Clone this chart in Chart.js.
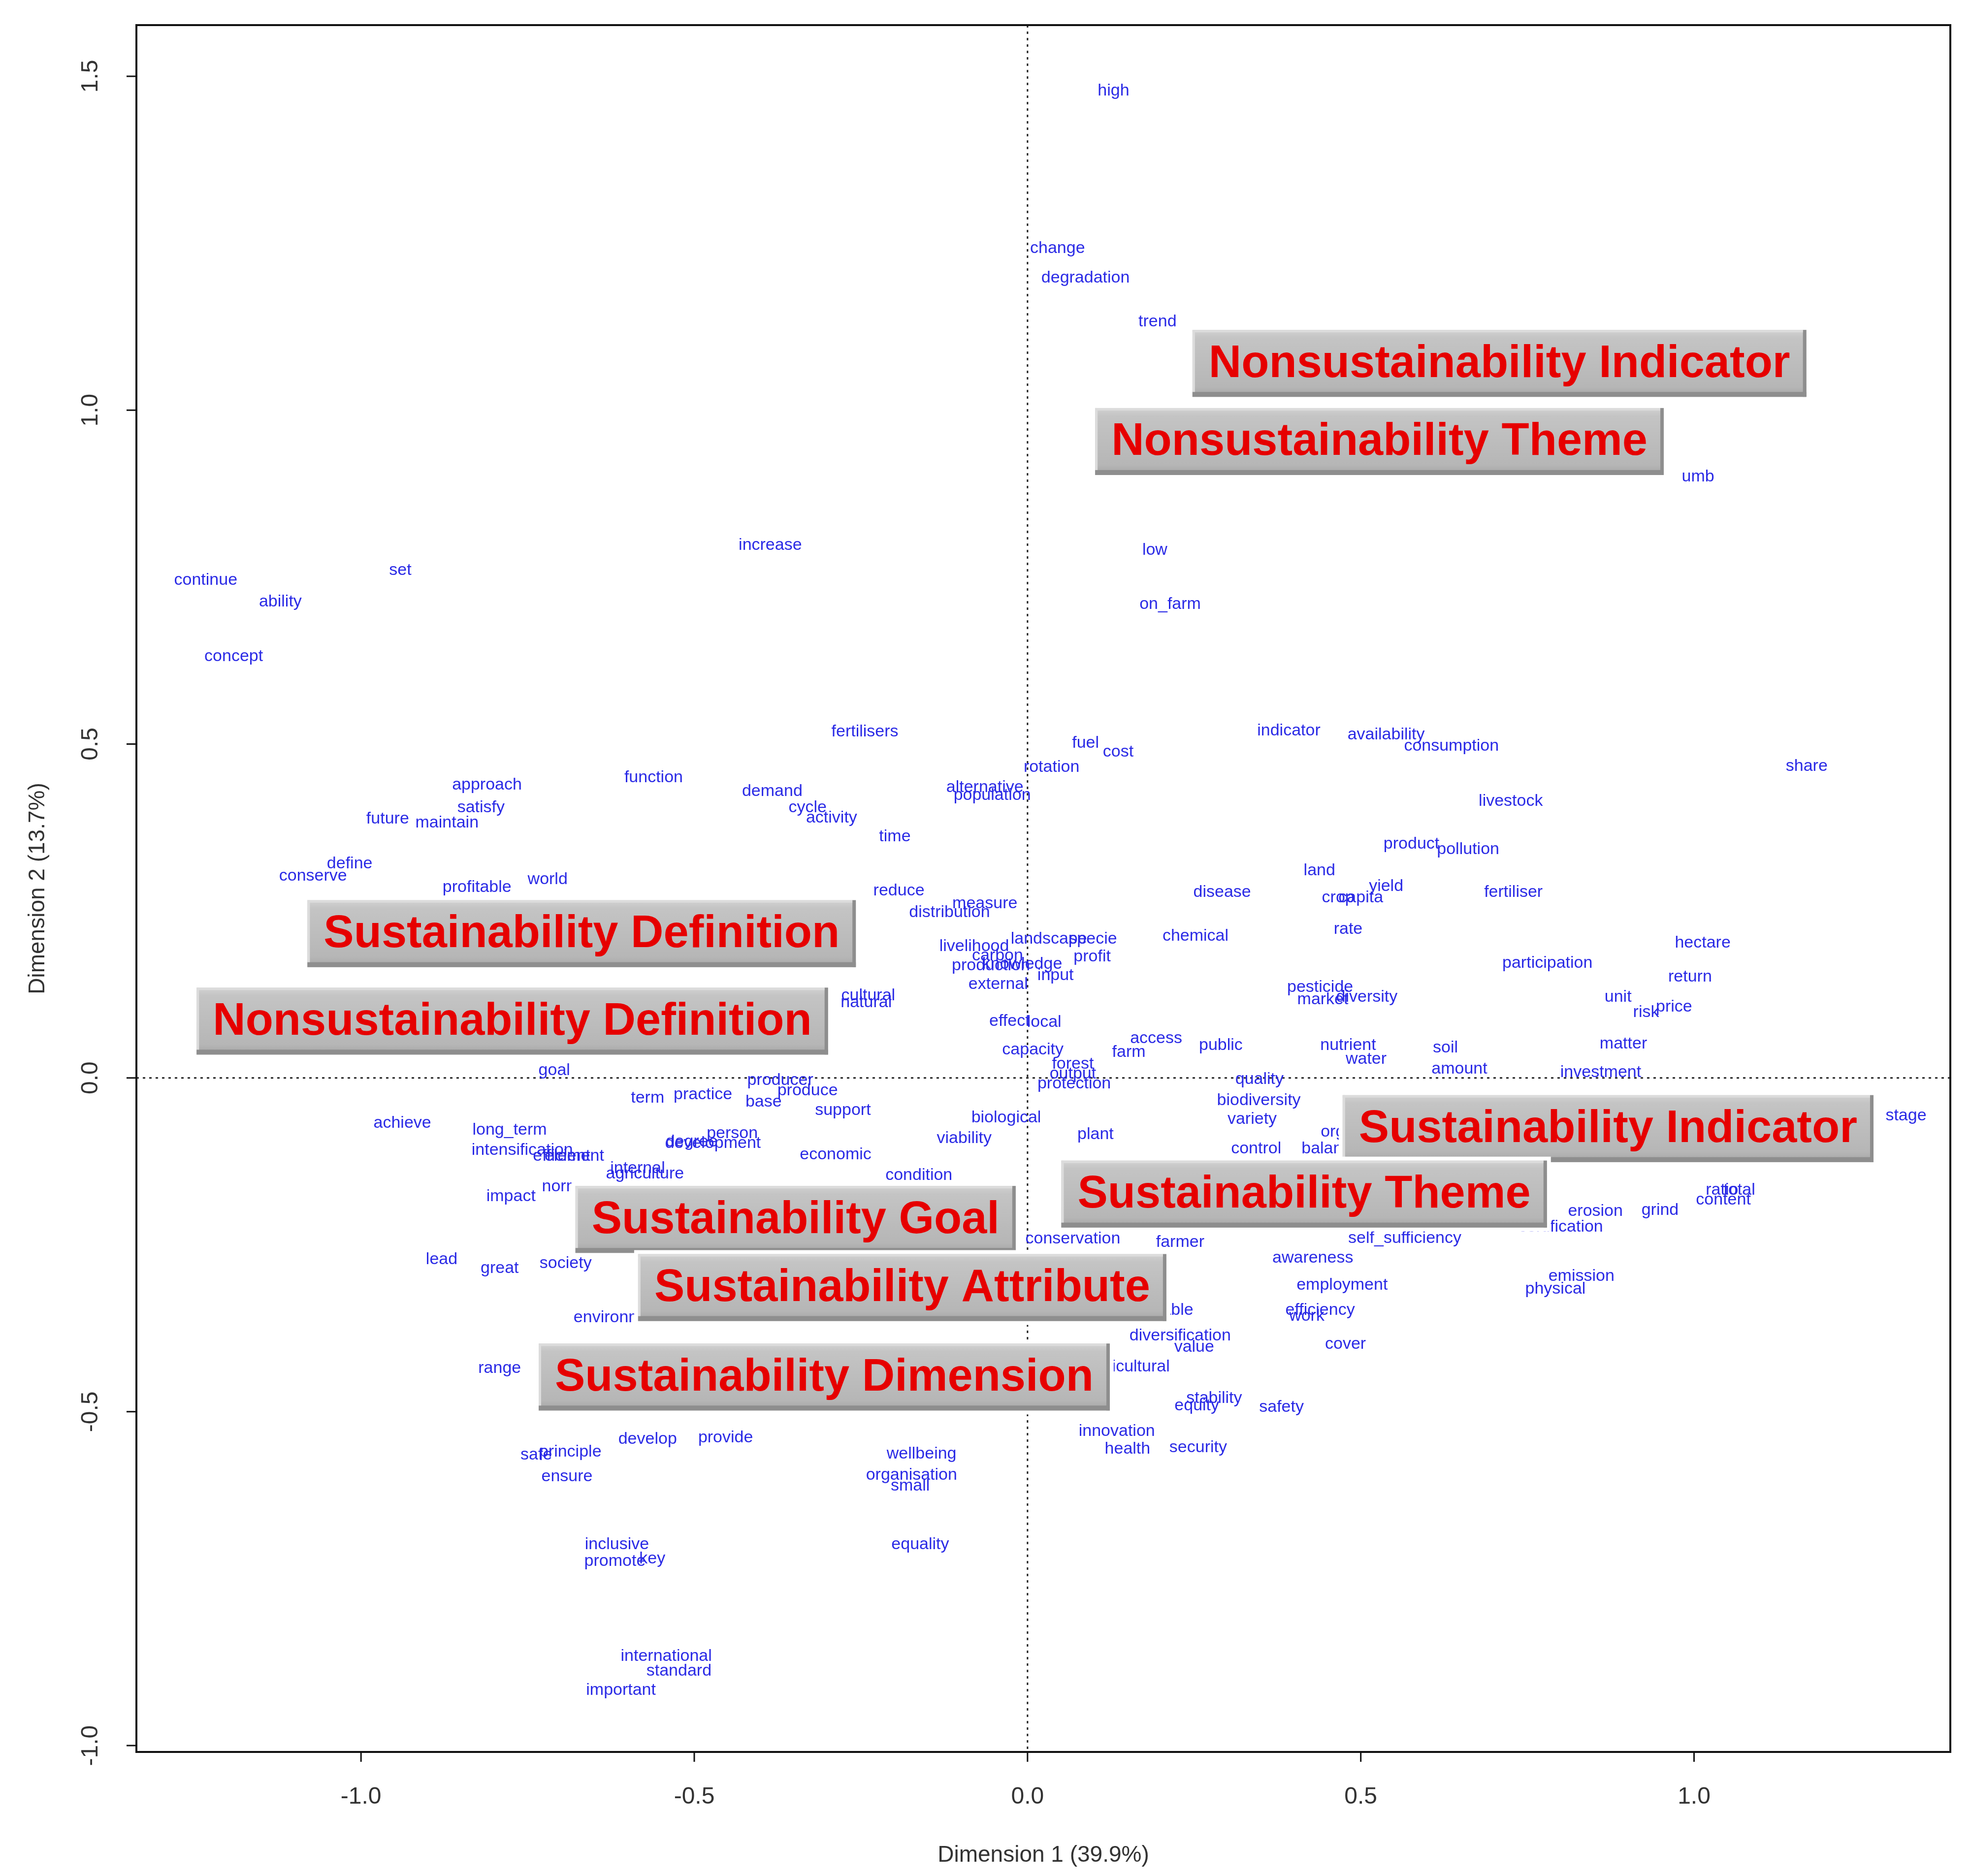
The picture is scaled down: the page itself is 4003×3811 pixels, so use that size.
<!DOCTYPE html>
<html>
<head>
<meta charset="utf-8">
<script src="https://cdn.jsdelivr.net/npm/chart.js@4.4.0/dist/chart.umd.min.js"></script>
<style>
  html, body { margin: 0; padding: 0; background: #fff; }
  #wrap { width: 4003px; height: 3811px; position: relative; }
</style>
</head>
<body>
<div id="wrap"><canvas id="ca"></canvas></div>
<script>
// word coordinates on the two dimensions
const words = ['high','change','degradation','trend','umb','low','on_farm','increase','continue','set','ability','concept',
  'fertilisers','fuel','cost','rotation','indicator','availability','consumption','share','livestock','product','pollution',
  'land','yield','crop','capita','fertiliser','disease','rate','chemical','hectare','participation','return','pesticide',
  'market','diversity','unit','risk','price','matter','soil','amount','investment','nutrient','water','public','access','farm',
  'quality','biodiversity','variety','organic','control','balance','stage','ratio','total','content','erosion','certification',
  'grind','self_sufficiency','awareness','employment','emission','physical','efficiency','work','cover','diversification',
  'value','viable','agricultural','stability','equity','safety','innovation','health','security','plant','biological',
  'viability','protection','forest','output','capacity','effect','local','external','input','profit','landscape','specie',
  'livelihood','carbon','knowledge','production','measure','distribution','reduce','alternative','population','time',
  'demand','cycle','activity','function','approach','satisfy','future','maintain','define','conserve','profitable','world',
  'cultural','natural','goal','producer','produce','term','practice','base','support','achieve','long_term','intensification',
  'efficient','element','person','development','degree','economic','condition','internal','agriculture','impact','norm',
  'lead','great','society','environment','range','develop','provide','safe','principle','ensure','wellbeing','organisation',
  'small','equality','inclusive','promote','key','international','standard','important','conservation','farmer'];

const wordX = [0.129,0.045,0.087,0.195,1.006,0.191,0.214,-0.386,-1.233,-0.941,-1.121,-1.191,
  -0.244,0.087,0.136,0.036,0.392,0.538,0.636,1.169,0.725,0.576,0.661,
  0.438,0.538,0.466,0.500,0.729,0.292,0.481,0.252,1.013,0.780,0.994,0.439,
  0.443,0.509,0.886,0.928,0.970,0.894,0.627,0.648,0.860,0.481,0.508,0.290,0.193,0.152,
  0.348,0.347,0.337,0.481,0.343,0.455,1.318,1.042,1.068,1.044,0.852,0.800,
  0.949,0.566,0.428,0.472,0.831,0.792,0.439,0.419,0.477,0.229,
  0.250,0.216,0.152,0.280,0.254,0.381,0.134,0.150,0.256,0.102,-0.032,
  -0.095,0.070,0.068,0.068,0.008,-0.027,0.025,-0.044,0.042,0.097,0.032,0.098,
  -0.080,-0.045,-0.008,-0.055,-0.064,-0.117,-0.193,-0.064,-0.053,-0.199,
  -0.383,-0.330,-0.294,-0.561,-0.811,-0.820,-0.960,-0.871,-1.017,-1.072,-0.826,-0.720,
  -0.239,-0.242,-0.710,-0.371,-0.330,-0.570,-0.487,-0.396,-0.277,-0.938,-0.777,-0.758,
  -0.699,-0.680,-0.443,-0.472,-0.504,-0.288,-0.163,-0.585,-0.574,-0.775,-0.700,
  -0.879,-0.792,-0.693,-0.612,-0.792,-0.570,-0.453,-0.737,-0.686,-0.691,-0.159,-0.174,
  -0.176,-0.161,-0.616,-0.619,-0.563,-0.542,-0.523,-0.610,0.068,0.229];

const wordY = [1.478,1.242,1.198,1.132,0.900,0.790,0.709,0.798,0.745,0.760,0.713,0.631,
  0.518,0.501,0.488,0.465,0.520,0.514,0.497,0.467,0.414,0.350,0.342,
  0.310,0.287,0.270,0.270,0.278,0.278,0.223,0.212,0.202,0.172,0.151,0.136,
  0.117,0.121,0.121,0.098,0.106,0.051,0.045,0.013,0.008,0.049,0.028,0.049,0.059,0.038,
  -0.002,-0.034,-0.062,-0.081,-0.106,-0.106,-0.057,-0.168,-0.168,-0.183,-0.200,-0.223,
  -0.198,-0.240,-0.270,-0.310,-0.297,-0.316,-0.348,-0.357,-0.399,-0.386,
  -0.403,-0.348,-0.433,-0.480,-0.491,-0.493,-0.529,-0.556,-0.554,-0.085,-0.060,
  -0.091,-0.009,0.021,0.006,0.042,0.085,0.083,0.140,0.153,0.181,0.208,0.208,
  0.197,0.183,0.170,0.168,0.261,0.248,0.280,0.435,0.423,0.361,
  0.429,0.405,0.389,0.450,0.439,0.405,0.388,0.382,0.321,0.302,0.285,0.297,
  0.123,0.113,0.011,-0.004,-0.019,-0.030,-0.025,-0.036,-0.049,-0.068,-0.078,-0.108,
  -0.117,-0.117,-0.083,-0.098,-0.096,-0.115,-0.146,-0.136,-0.144,-0.178,-0.163,
  -0.272,-0.285,-0.278,-0.359,-0.435,-0.541,-0.539,-0.565,-0.560,-0.597,-0.563,-0.595,
  -0.611,-0.699,-0.699,-0.724,-0.720,-0.866,-0.888,-0.917,-0.241,-0.246];

// category (supplementary) points
const groups = ['Nonsustainability Indicator','Nonsustainability Theme','Sustainability Definition',
  'Nonsustainability Definition','Sustainability Indicator','Sustainability Theme','Sustainability Goal',
  'Sustainability Attribute','Sustainability Dimension'];
const groupX = [0.708, 0.528, -0.669, -0.773, 0.871, 0.415, -0.348, -0.188, -0.305];
const groupY = [1.070, 0.953, 0.216, 0.085, -0.076, -0.174, -0.212, -0.314, -0.448];

const xTicks = [-1.0, -0.5, 0.0, 0.5, 1.0];
const yTicks = [-1.0, -0.5, 0.0, 0.5, 1.0, 1.5];
const xTitle = 'Dimension 1 (39.9%)';
const yTitle = 'Dimension 2 (13.7%)';

function drawBox(ctx, cx, cy, text) {
  ctx.font = 'bold 92px "Liberation Sans"';
  const w = ctx.measureText(text).width + 66, h = 136;
  const x = cx - w / 2, y = cy - h / 2;
  ctx.fillStyle = '#ffffff';
  ctx.fillRect(x - 8, y - 8, w + 16, h + 16);
  const g = ctx.createLinearGradient(0, y, 0, y + h);
  g.addColorStop(0, '#d2d2d2');
  g.addColorStop(0.12, '#c4c4c4');
  g.addColorStop(0.85, '#b6b6b6');
  g.addColorStop(1, '#a4a4a4');
  ctx.fillStyle = g;
  ctx.fillRect(x, y, w, h);
  ctx.fillStyle = '#8e8e8e';
  ctx.fillRect(x, y + h - 10, w, 10);
  ctx.fillRect(x + w - 7, y, 7, h);
  ctx.fillStyle = '#dcdcdc';
  ctx.fillRect(x, y, w - 7, 5);
  ctx.fillRect(x, y, 5, h - 10);
  ctx.fillStyle = '#e60000';
  ctx.textAlign = 'center';
  ctx.textBaseline = 'middle';
  ctx.fillText(text, cx, cy + 2);
}

const biplot = {
  id: 'biplot',
  beforeDatasetsDraw(chart) {
    const {ctx, chartArea: a, scales: {x, y}} = chart;
    ctx.save();
    ctx.strokeStyle = '#222';
    ctx.lineWidth = 3;
    ctx.setLineDash([5, 8]);
    const x0 = x.getPixelForValue(0), y0 = y.getPixelForValue(0);
    ctx.beginPath();
    ctx.moveTo(x0, a.top); ctx.lineTo(x0, a.bottom);
    ctx.moveTo(a.left, y0); ctx.lineTo(a.right, y0);
    ctx.stroke();
    ctx.restore();
  },
  afterDatasetsDraw(chart) {
    const ctx = chart.ctx;
    ctx.save();
    // word labels
    ctx.font = '34px "Liberation Sans"';
    ctx.fillStyle = '#2a2ae6';
    ctx.textAlign = 'center';
    ctx.textBaseline = 'middle';
    chart.getDatasetMeta(0).data.forEach((p, i) => ctx.fillText(words[i], p.x, p.y));
    // group boxes
    chart.getDatasetMeta(1).data.forEach((p, i) => drawBox(ctx, p.x, p.y, groups[i]));
    ctx.restore();
  },
  afterDraw(chart) {
    const {ctx, chartArea: a, scales: {x, y}} = chart;
    ctx.save();
    ctx.strokeStyle = '#111';
    ctx.lineWidth = 4;
    ctx.strokeRect(a.left, a.top, a.right - a.left, a.bottom - a.top);
    ctx.lineWidth = 3;
    ctx.beginPath();
    xTicks.forEach(v => { const px = x.getPixelForValue(v); ctx.moveTo(px, a.bottom); ctx.lineTo(px, a.bottom + 20); });
    yTicks.forEach(v => { const py = y.getPixelForValue(v); ctx.moveTo(a.left, py); ctx.lineTo(a.left - 20, py); });
    ctx.stroke();
    ctx.fillStyle = '#333';
    ctx.font = '48px "Liberation Sans"';
    ctx.textAlign = 'center';
    ctx.textBaseline = 'middle';
    xTicks.forEach(v => ctx.fillText(v.toFixed(1), x.getPixelForValue(v), 3651));
    yTicks.forEach(v => {
      ctx.save();
      ctx.translate(185, y.getPixelForValue(v));
      ctx.rotate(-Math.PI / 2);
      ctx.fillText(v.toFixed(1), 0, 0);
      ctx.restore();
    });
    ctx.font = '46px "Liberation Sans"';
    ctx.fillText(xTitle, (a.left + a.right) / 2, 3769);
    ctx.save();
    ctx.translate(77, (a.top + a.bottom) / 2);
    ctx.rotate(-Math.PI / 2);
    ctx.fillText(yTitle, 0, 0);
    ctx.restore();
    ctx.restore();
  }
};

new Chart(document.getElementById('ca'), {
  type: 'scatter',
  data: {
    datasets: [
      { label: 'words', data: words.map((w, i) => ({x: wordX[i], y: wordY[i]})), pointRadius: 0 },
      { label: 'groups', data: groups.map((g, i) => ({x: groupX[i], y: groupY[i]})), pointRadius: 0 }
    ]
  },
  plugins: [biplot],
  options: {
    responsive: true,
    maintainAspectRatio: false,
    devicePixelRatio: 1,
    animation: false,
    layout: { padding: { left: 277, right: 42, top: 51, bottom: 252 } },
    plugins: { legend: { display: false }, tooltip: { enabled: false } },
    scales: {
      x: { type: 'linear', min: -1.337, max: 1.3845, display: false },
      y: { type: 'linear', min: -1.0095, max: 1.5766, display: false }
    }
  }
});
</script>
</body>
</html>
